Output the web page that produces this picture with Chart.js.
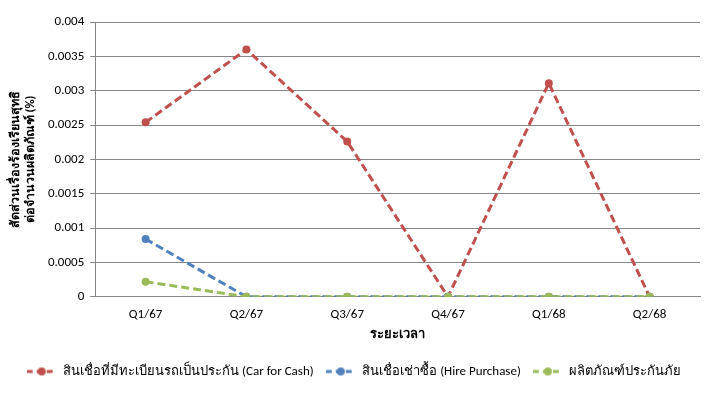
<!DOCTYPE html>
<html>
<head>
<meta charset="utf-8">
<script src="https://cdn.jsdelivr.net/npm/chart.js@4"></script>
<style>
  html, body { margin: 0; padding: 0; background: #fff; }
  #wrap { width: 725px; height: 396px; }
</style>
</head>
<body>
<div id="wrap"><canvas id="lineChart"></canvas></div>
<script>
const quarters = ['Q1/67', 'Q2/67', 'Q3/67', 'Q4/67', 'Q1/68', 'Q2/68'];
const carForCash = [0.00254, 0.0036, 0.00226, 0, 0.00311, 0];
const hirePurchase = [0.00084, 0, 0, 0, 0, 0];
const insurance = [0.00022, 0, 0, 0, 0, 0];
const seriesNames = [
    'สินเชื่อที่มีทะเบียนรถเป็นประกัน (Car for Cash)',
    'สินเชื่อเช่าซื้อ (Hire Purchase)',
    'ผลิตภัณฑ์ประกันภัย'
];
const colors = ['#C0504D', '#4F81BD', '#9BBB59'];

const font = "Calibri, Carlito, 'Liberation Sans', 'Noto Sans', sans-serif";

// little legend icon: dashed line with a dot in the middle
function legendIcon(color) {
    const c = document.createElement('canvas');
    c.width = 30; c.height = 12;
    const g = c.getContext('2d');
    g.strokeStyle = color;
    g.lineWidth = 3;
    g.setLineDash([6, 4]);
    g.beginPath();
    g.moveTo(0, 6); g.lineTo(30, 6);
    g.stroke();
    g.fillStyle = color;
    g.beginPath();
    g.arc(15, 6, 4, 0, Math.PI * 2);
    g.fill();
    return c;
}

function makeSet(i, values) {
    return {
        label: seriesNames[i],
        data: values,
        borderColor: colors[i],
        backgroundColor: colors[i],
        borderWidth: 3,
        borderDash: [8, 4],
        pointRadius: 4,
        pointHoverRadius: 4,
        pointBackgroundColor: colors[i],
        pointBorderWidth: 0,
        fill: false,
        tension: 0
    };
}

const ctx = document.getElementById('lineChart').getContext('2d');
new Chart(ctx, {
    type: 'line',
    data: {
        labels: quarters,
        datasets: [
            makeSet(0, carForCash),
            makeSet(1, hirePurchase),
            makeSet(2, insurance)
        ].reverse()
    },
    options: {
        responsive: true,
        maintainAspectRatio: false,
        animation: false,
        layout: { padding: { left: 8, right: 25, top: 22, bottom: 8 } },
        plugins: {
            tooltip: { enabled: false },
            legend: {
                display: true,
                position: 'bottom',
                reverse: true,
                labels: {
                    usePointStyle: true,
                    pointStyleWidth: 30,
                    color: '#000',
                    padding: 12,
                    font: { family: font, size: 13 },
                    generateLabels: chart => chart.data.datasets.map((ds, i) => ({
                        text: ds.label,
                        pointStyle: legendIcon(ds.borderColor),
                        fillStyle: ds.borderColor,
                        strokeStyle: ds.borderColor,
                        lineWidth: 0,
                        datasetIndex: i,
                        hidden: false
                    }))
                }
            }
        },
        scales: {
            x: {
                offset: true,
                grid: { display: false, drawTicks: false },
                border: { color: '#868686' },
                ticks: { color: '#000', padding: 10, font: { family: font, size: 13 } },
                title: {
                    display: true,
                    text: 'ระยะเวลา',
                    color: '#000',
                    font: { family: font, size: 13, weight: 'bold' },
                    padding: { top: -5, bottom: 10 }
                }
            },
            y: {
                min: 0,
                max: 0.004,
                ticks: {
                    stepSize: 0.0005,
                    color: '#000',
                    padding: 6,
                    font: { family: font, size: 13 },
                    callback: v => String(+v.toFixed(4))
                },
                grid: { color: '#868686', tickLength: 5 },
                border: { color: '#868686' },
                title: {
                    display: true,
                    text: ['สัดส่วนเรื่องร้องเรียนสุทธิ', 'ต่อจำนวนผลิตภัณฑ์ (%)'],
                    color: '#000',
                    font: { family: font, size: 12.5, weight: 'bold' },
                    padding: { top: 0, bottom: 4 }
                }
            }
        }
    }
});
</script>
</body>
</html>
